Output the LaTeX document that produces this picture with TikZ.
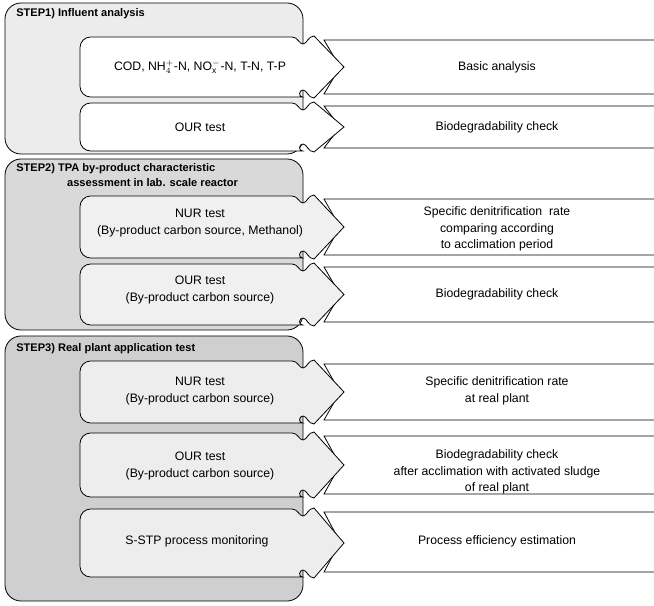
\documentclass[tikz,border=0pt]{standalone}
\usepackage{fontspec}
\setmainfont{Liberation Sans}
\usetikzlibrary{calc}
\tikzset{
  paso/.style={draw=black, line width=0.6pt, rounded corners=12},
  titulo/.style={anchor=west, align=left, font=\fontsize{8.3}{10.8}\selectfont\bfseries, inner sep=0pt},
  texto/.style={align=center, inner sep=0pt},
  resultado/.style={draw=black, line width=0.6pt, fill=white}
}
% arrow-shaped row box: top, bottom, fill
\newcommand{\filaflecha}[3]{%
  \filldraw[fill=#3, line width=0.6pt] (292,#1) [rounded corners=8] -- (80,#1) -- (80,#2) -- (292,#2) [sharp corners]
    .. controls (298,#2) and (299,{#2-7}) .. (303,{#2-7})
    .. controls (307,{#2-7}) and (308,{#2+1}) .. (314,{#2+1})
    -- (344,{(#1+#2)/2}) -- (314,{#1-1})
    .. controls (308,{#1-1}) and (307,{#1+7}) .. (303,{#1+7})
    .. controls (299,{#1+7}) and (298,#1) .. (292,#1) -- cycle;}
% result box on the right: top, bottom
\newcommand{\cajaresultado}[2]{%
  \filldraw[resultado] (324,#1) -- (670,#1) -- (670,#2) -- (324,#2) -- (340,{(#1+#2)/2}) -- cycle;}

\begin{document}
\begin{tikzpicture}[x=0.75pt, y=-0.75pt, font=\fontsize{9.2}{12.5}\selectfont]
    \useasboundingbox (0,0) rectangle (654,606);
    \clip (0,0) rectangle (654,606);

    % Paneles
    \draw[paso, fill=gray!15] (5,3) rectangle (303,154);
    \draw[paso, fill=gray!30] (5,159) rectangle (303,330);
    \draw[paso, fill=gray!38] (5,336) rectangle (303,601);

    % Cajas de resultado
    \cajaresultado{40}{94}
    \cajaresultado{106}{148}
    \cajaresultado{199}{255}
    \cajaresultado{267}{322}
    \cajaresultado{364}{420}
    \cajaresultado{436}{494}
    \cajaresultado{512}{572}

    \node[texto] (basico) at (497,67) {Basic analysis};
    \node[texto] (biodeg1) at (497,127) {Biodegradability check};
    \node[texto] (sdnr1) at (497,229) {Specific denitrification~ rate\\comparing according\\to acclimation period};
    \node[texto] (biodeg2) at (497,294) {Biodegradability check};
    \node[texto] (sdnr2) at (497,391) {Specific denitrification rate\\at real plant};
    \node[texto] (biodeg3) at (497,472) {Biodegradability check\\after acclimation with activated sludge\\of real plant};
    \node[texto] (eficiencia) at (497,541) {Process efficiency estimation};

    % ---------------- STEP1 ----------------
    \node[titulo] (paso1) at (16,14) {STEP1) Influent analysis};
    \filaflecha{37}{97}{white}
    \filaflecha{103}{151}{white}
    \node[texto] (cod) at (200,67) {COD, NH$_4^+$-N, NO$_\mathrm{x}^-$-N, T-N, T-P};
    \node[texto] (our1) at (200,127) {OUR test};

    % ---------------- STEP2 ----------------
    \node[titulo] (paso2) at (16,175) {STEP2) TPA by-product characteristic\\\hspace*{4.6em}assessment in lab. scale reactor};
    \filaflecha{196}{258}{gray!12}
    \filaflecha{264}{325}{gray!12}
    \node[texto] (nur1) at (200,223) {NUR test\\(By-product carbon source, Methanol)};
    \node[texto] (our2) at (200,290) {OUR test\\(By-product carbon source)};

    % ---------------- STEP3 ----------------
    \node[titulo] (paso3) at (16,349) {STEP3) Real plant application test};
    \filaflecha{361}{423}{gray!14}
    \filaflecha{433}{497}{gray!14}
    \filaflecha{509}{577}{gray!14}
    \node[texto] (nur2) at (200,391) {NUR test\\(By-product carbon source)};
    \node[texto] (our3) at (200,466) {OUR test\\(By-product carbon source)};
    \node[texto] (sstp) at (197,541) {S-STP process monitoring};
\end{tikzpicture}
\end{document}
